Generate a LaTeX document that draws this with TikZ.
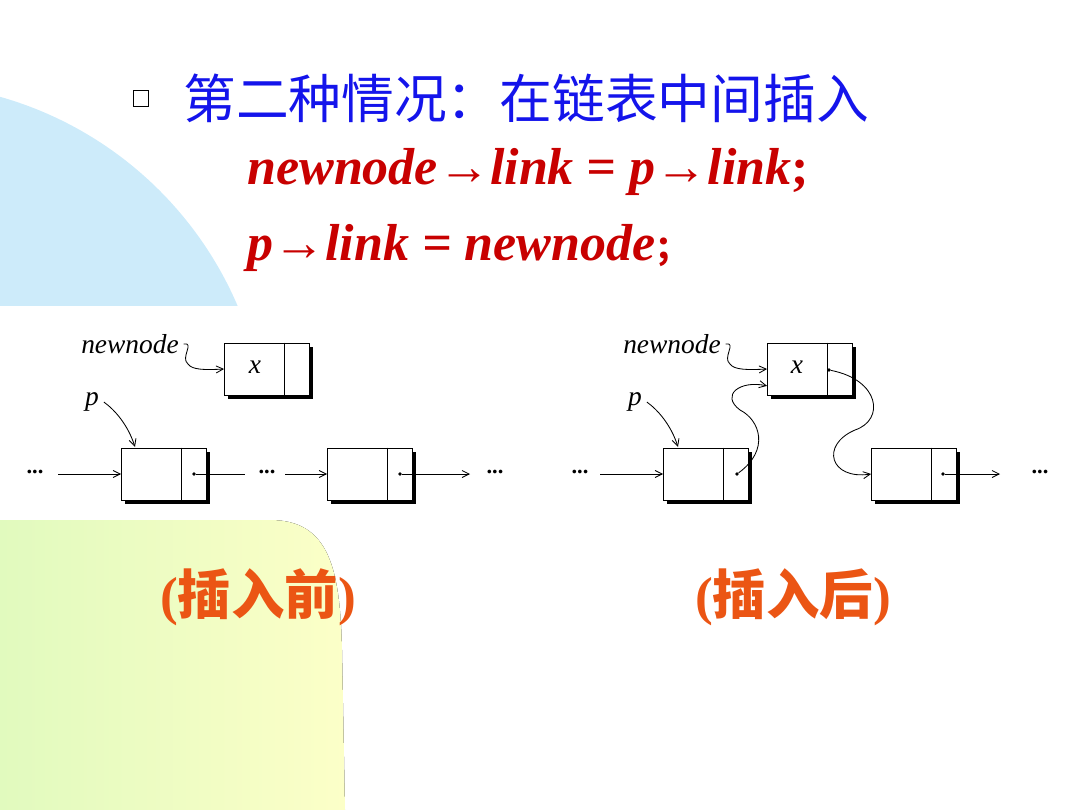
\documentclass[tikz,border=0pt]{standalone}
\usepackage{fontspec}
\setmainfont{Liberation Serif}
\newfontfamily\cjk{Noto Sans CJK SC}
\usetikzlibrary{shadows,arrows.meta}
\definecolor{titleblue}{RGB}{20,20,235}
\definecolor{codered}{RGB}{200,0,0}
\definecolor{capred}{RGB}{235,85,20}
\definecolor{skyblue}{RGB}{205,235,250}
\definecolor{paleyellow}{RGB}{252,255,200}
\definecolor{palegreen}{RGB}{225,250,190}
\tikzset{
  cell/.style={draw,fill=white,line width=0.6pt,minimum width=2.125cm,minimum height=1.3cm,
    drop shadow={shadow xshift=2.5pt,shadow yshift=-2.5pt,fill=black,opacity=1}},
  link/.style={-{Straight Barb[length=5pt,width=5pt]},line width=0.6pt},
  ptr/.style={circle,fill,inner sep=0.9pt},
  lbl/.style={font=\fontsize{19.5}{22}\selectfont\itshape},
  dots/.style={font=\fontsize{16}{18}\selectfont\bfseries}
}
\newcommand{\cellsplit}[1]{\draw[line width=0.6pt] ([xshift=-0.65cm]#1.north east) -- ([xshift=-0.65cm]#1.south east);}
\begin{document}
\begin{tikzpicture}[x=0.025cm,y=-0.025cm]
\useasboundingbox (0,0) rectangle (1080,810);
% background
\begin{scope}
  \clip (0,0) rectangle (400,305);
  \fill[skyblue] (-100,450) circle (367);
\end{scope}
\fill[left color=palegreen,right color=paleyellow] (0,520) -- (270,520) .. controls (330,520) and (340,570) .. (342,650) -- (345,810) -- (0,810) -- cycle;
% title
\draw[line width=0.5pt] (133,90) rectangle (148,106);
\node[anchor=west,inner sep=0pt,text=titleblue,font=\cjk\fontsize{37.5}{40}\selectfont] (title) at (183,98) {第二种情况：在链表中间插入};
\node[anchor=west,inner sep=0pt,text=codered,font=\fontsize{37}{40}\selectfont\bfseries\itshape] (code1) at (247,172) {newnode→link = p→link\upshape;};
\node[anchor=west,inner sep=0pt,text=codered,font=\fontsize{37}{40}\selectfont\bfseries\itshape] (code2) at (247,248) {p→link = newnode\upshape{\cjk\fontsize{24}{26}\selectfont ；}};
% before
\node[cell] (nx) at (267,369) {};
\node[lbl] at (255,367) {x};
\node[cell] (na) at (164,474) {};
\node[cell] (nb) at (370,474) {};
\foreach \n in {nx,na,nb} {\cellsplit{\n}}
\node[dots] (d1) at (35,472) {...};
\node[dots] (d2) at (267,472) {...};
\node[dots] (d3) at (495,472) {...};
\node[ptr] (pa) at (194,474) {};
\node[ptr] (pb) at (400,474) {};
\draw[link] (58,474) -- (na.west);
\draw[line width=0.6pt] (pa) -- (245,474);
\draw[link] (285,474) -- (nb.west);
\draw[link] (pb) -- (470,474);
\node[lbl] (nn1) at (130,344) {newnode};
\node[lbl] (p1) at (92,402) {p};
\draw[link] (nn1.east) .. controls (195,342) and (180,358) .. (188,364) .. controls (192,370) and (205,370) .. (nx.west);
\draw[link] (p1.east) .. controls (115,410) and (128,425) .. (135,447);
% after
\node[cell] (mx) at (810,369) {};
\node[lbl] at (797,367) {x};
\node[cell] (ma) at (706,474) {};
\node[cell] (mb) at (914,474) {};
\foreach \n in {mx,ma,mb} {\cellsplit{\n}}
\node[dots] (e1) at (580,472) {...};
\node[dots] (e3) at (1040,472) {...};
\node[ptr] (qa) at (737,474) {};
\node[ptr] (qx) at (829,370) {};
\node[ptr] (qb) at (943,474) {};
\draw[link] (600,474) -- (ma.west);
\draw[link] (qb) -- (1000,474);
\draw[link] (qa) .. controls (770,450) and (760,420) .. (740,410) .. controls (720,395) and (740,380) .. ([yshift=-12]mx.west);
\draw[link] (qx) .. controls (880,380) and (885,420) .. (855,430) .. controls (820,445) and (830,480) .. (mb.west);
\node[lbl] (nn2) at (672,344) {newnode};
\node[lbl] (p2) at (635,402) {p};
\draw[link] (nn2.east) .. controls (737,342) and (722,358) .. (730,364) .. controls (734,370) and (748,370) .. (mx.west);
\draw[link] (p2.east) .. controls (658,410) and (671,425) .. (678,447);
% captions
\node[text=capred,font=\fontsize{38}{42}\selectfont\bfseries] (cap1) at (258,597) {({\cjk\bfseries 插入前})};
\node[text=capred,font=\fontsize{38}{42}\selectfont\bfseries] (cap2) at (793,597) {({\cjk\bfseries 插入后})};
\end{tikzpicture}
\end{document}
